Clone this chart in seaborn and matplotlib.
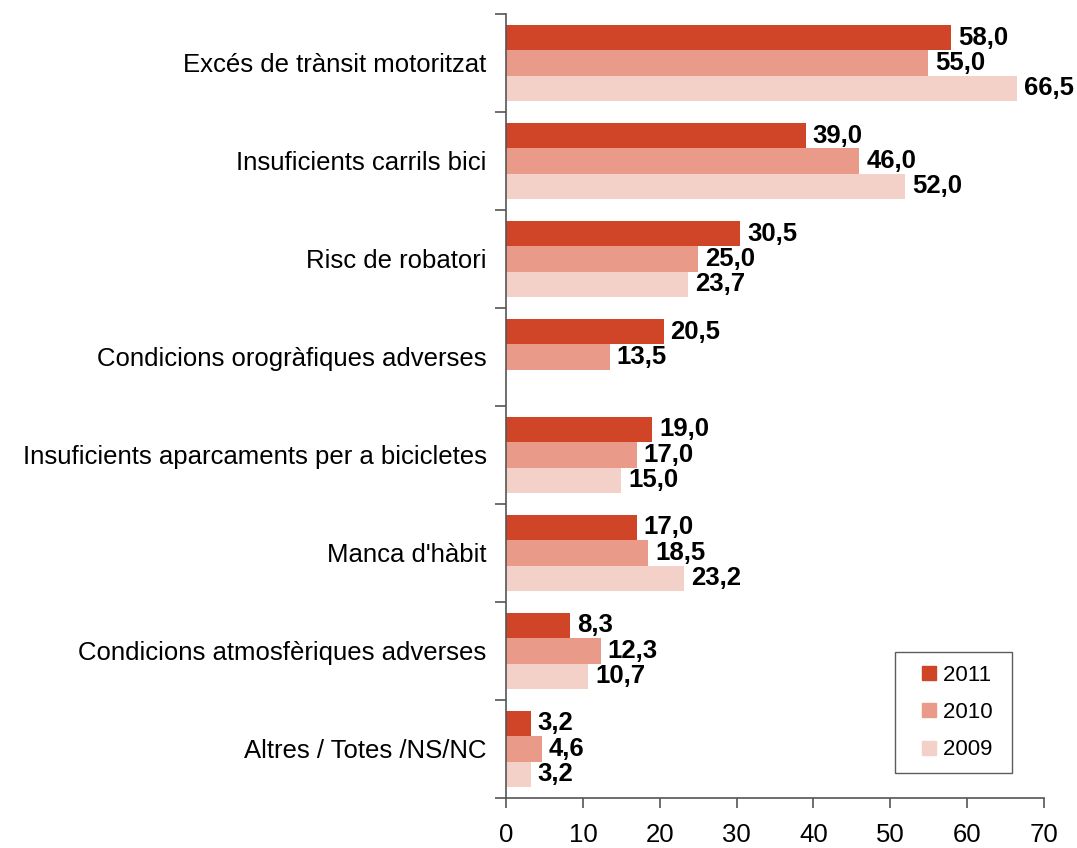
import matplotlib
matplotlib.use("Agg")
import matplotlib.pyplot as plt
from matplotlib.lines import Line2D
import numpy as np
import pandas as pd
import seaborn as sns

categories = ["Excés de trànsit motoritzat", "Insuficients carrils bici", "Risc de robatori",
              "Condicions orogràfiques adverses", "Insuficients aparcaments per a bicicletes",
              "Manca d'hàbit", "Condicions atmosfèriques adverses", "Altres / Totes /NS/NC"]
years = ["2011", "2010", "2009"]
v2011 = [58.0, 39.0, 30.5, 20.5, 19.0, 17.0, 8.3, 3.2]
v2010 = [55.0, 46.0, 25.0, 13.5, 17.0, 18.5, 12.3, 4.6]
v2009 = [66.5, 52.0, 23.7, np.nan, 15.0, 23.2, 10.7, 3.2]
colors = ["#D04427", "#E99A89", "#F3D0C8"]

df = pd.DataFrame({
    "cat": categories * 3,
    "year": [y for y in years for _ in categories],
    "val": v2011 + v2010 + v2009,
}).dropna()

sns.set_style("white")
plt.rcParams["font.family"] = ["Liberation Sans", "DejaVu Sans"]
plt.rcParams["text.color"] = "black"
plt.rcParams["xtick.color"] = "black"
plt.rcParams["ytick.color"] = "black"

fig = plt.figure(figsize=(10.77, 8.48), dpi=100)
ax = fig.add_axes([0.470, 0.059, 0.499, 0.9245])
sns.barplot(data=df, y="cat", x="val", hue="year", order=categories, hue_order=years,
            palette=colors, orient="h", width=0.78, saturation=1, ax=ax, errorbar=None,
            linewidth=0, legend=False)

for cont in ax.containers:
    ax.bar_label(cont, fmt=lambda v: f"{v:.1f}".replace(".", ","), padding=5,
                 fontsize=18.5, fontweight="bold", color="black")

ax.set_xlim(0, 70)
ax.set_ylim(len(categories) - 0.5, -0.5)
ax.set_xticks(range(0, 71, 10))
ax.set_xlabel("")
ax.set_ylabel("")
sns.despine(ax=ax)
for s in ["left", "bottom"]:
    ax.spines[s].set_color("#555555")
    ax.spines[s].set_linewidth(1.2)
ax.tick_params(axis="x", direction="out", length=7, width=1.2, color="#555555",
               labelsize=18.5, pad=11, bottom=True)
ax.tick_params(axis="y", which="major", length=0, labelsize=18.5, pad=14)
ax.set_yticks(np.arange(-0.5, len(categories), 1), minor=True)
ax.tick_params(axis="y", which="minor", direction="out", length=8, width=1.2,
               color="#555555", left=True)

# legend with square markers
handles = [Line2D([], [], marker="s", linestyle="", color=c, markersize=10) for c in colors]
leg = ax.legend(handles, [y + " " for y in years], loc="lower right",
                bbox_to_anchor=(0.9405, 0.032), fontsize=16, frameon=True,
                fancybox=False, edgecolor="#333333", handlelength=1.94,
                labelspacing=0.74, borderpad=0.56, handletextpad=-0.3, borderaxespad=0)
leg.get_frame().set_linewidth(1.0)

fig.savefig("out.png", dpi=100)
